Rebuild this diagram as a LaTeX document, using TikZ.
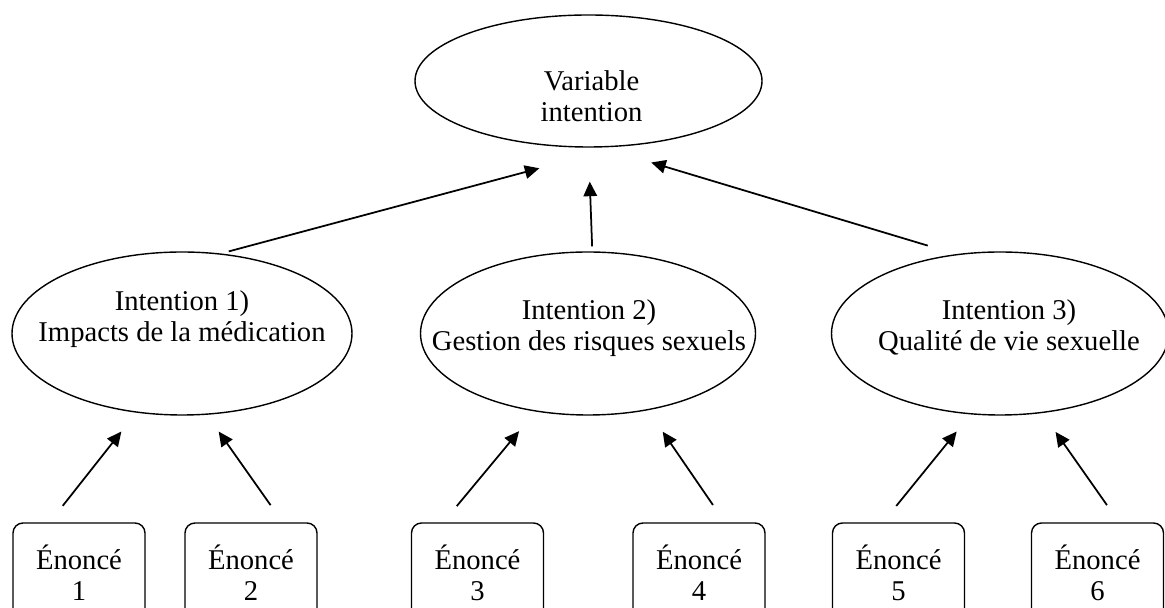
\documentclass[tikz,border=0pt]{standalone}
\usepackage{fontspec}
\setmainfont{Liberation Serif}
\usetikzlibrary{arrows.meta,shapes.geometric}

\begin{document}
\begin{tikzpicture}[
        intent/.style={draw, ellipse, line width=0.8pt, inner sep=0pt},
        txt/.style={align=center},
        enonce/.style={draw, rounded corners=0.2cm, line width=0.8pt, minimum width=2.64cm, minimum height=2cm, inner sep=0pt, align=center},
        arr/.style={-{Triangle[length=0.29cm,width=0.27cm]}, line width=1pt},
        font=\fontsize{16.3}{17.6}\selectfont
    ]
        \useasboundingbox (0,0) rectangle (23.3,12.16);

        \node[intent, minimum width=6.94cm, minimum height=2.64cm,
            label={[txt, name=t0, xshift=0.06cm, yshift=-0.3cm]center:Variable\\intention}] (e0) at (11.77,10.54) {};
        \node[intent, minimum width=6.8cm, minimum height=3.26cm,
            label={[txt, name=t1, yshift=0.28cm]center:Intention 1)\\Impacts de la médication}] (e1) at (3.64,5.49) {};
        \node[intent, minimum width=6.7cm, minimum height=3.26cm,
            label={[txt, name=t2, xshift=0.02cm, yshift=0.11cm]center:Intention 2)\\Gestion des risques sexuels}] (e2) at (11.76,5.49) {};
        \node[intent, minimum width=6.74cm, minimum height=3.26cm,
            label={[txt, name=t3, xshift=0.18cm, yshift=0.12cm]center:Intention 3)\\Qualité de vie sexuelle}] (e3) at (20.0,5.49) {};

        \foreach \i/\x in {1/1.58,2/5.02,3/9.55,4/13.98,5/17.97,6/21.95}{
            \node[enonce] (b\i) at (\x,0.7) {Énoncé\\\i};
        }

        \foreach \b/\e/\sa/\ea/\s in {b1/e1/120/240/0.48,b2/e1/58/287/0.41,b3/e2/124/236/0.51,b4/e2/63/308/0.52,b5/e3/107/250/0.44,b6/e3/67/298/0.46}{
            \draw[arr, shorten <=0.42cm, shorten >=\s cm] (\b.\sa) -- (\e.\ea);
        }

        \draw[arr, shorten <=0.16cm, shorten >=1.68cm] (e1.64) -- (e0.296);
        \draw[arr, shorten <=0.1cm, shorten >=0.68cm] (e2.87) -- (e0.south);
        \draw[arr, shorten <=0.59cm, shorten >=1.04cm] (e3.119) -- (e0.281);
    \end{tikzpicture}
\end{document}
